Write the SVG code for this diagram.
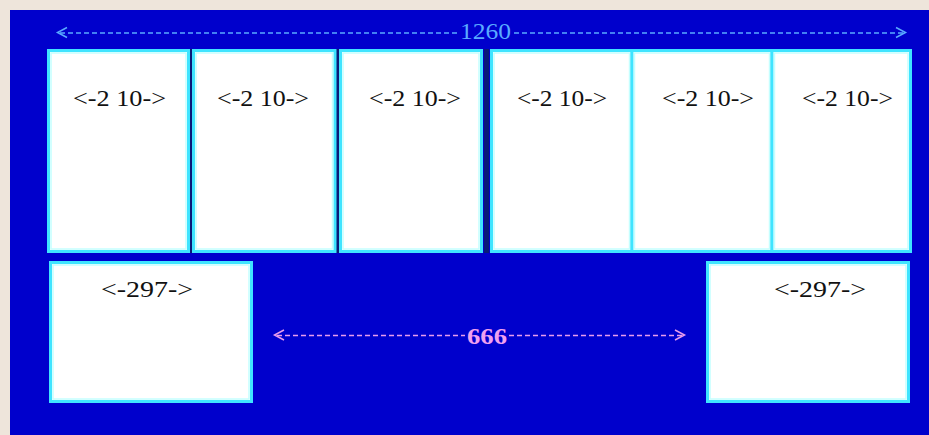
<svg xmlns="http://www.w3.org/2000/svg" width="929" height="435" viewBox="0 0 929 435">
  <style>
    .box { fill: #FFFFFF; stroke: #3FE4FF; stroke-width: 3; }
    .hi { fill: none; stroke: #C4FFFF; stroke-width: 1.5; }
    .lbl { font-family: "Liberation Serif", "Times New Roman", serif; font-size: 24px; fill: #111111; text-anchor: middle; }
    .dimA { stroke: #5AAAFF; stroke-width: 1.5; fill: none; }
    .dimB { stroke: #E89CEC; stroke-width: 1.5; fill: none; }
    .dash { stroke-dasharray: 5 3; }
    .gap { fill: #0A1A78; }
  </style>
  <rect x="0" y="0" width="929" height="435" fill="#EEE5DB"/>
  <rect x="10" y="10" width="919" height="425" fill="#0000CC"/>

  <rect class="gap" x="189.5" y="49" width="3" height="204"/>
  <rect class="gap" x="336" y="49" width="3" height="204"/>
  <rect class="gap" x="484" y="49" width="5" height="204"/>

  <g id="box1">
    <rect class="box" x="48.5" y="50.5" width="140" height="201"/>
    <rect class="hi" x="51" y="53" width="135" height="196"/>
    <text class="lbl" x="119.5" y="106" textLength="93" lengthAdjust="spacingAndGlyphs">&lt;-2 10-&gt;</text>
  </g>
  <g id="box2">
    <rect class="box" x="193.5" y="50.5" width="141.5" height="201"/>
    <rect class="hi" x="196" y="53" width="136.5" height="196"/>
    <text class="lbl" x="263" y="106" textLength="92" lengthAdjust="spacingAndGlyphs">&lt;-2 10-&gt;</text>
  </g>
  <g id="box3">
    <rect class="box" x="340.5" y="50.5" width="141" height="201"/>
    <rect class="hi" x="343" y="53" width="136" height="196"/>
    <text class="lbl" x="415" y="106" textLength="92" lengthAdjust="spacingAndGlyphs">&lt;-2 10-&gt;</text>
  </g>
  <g id="box4">
    <rect class="box" x="491.5" y="50.5" width="140.5" height="201"/>
    <rect class="hi" x="494" y="53" width="135.5" height="196"/>
    <text class="lbl" x="562" y="106" textLength="90" lengthAdjust="spacingAndGlyphs">&lt;-2 10-&gt;</text>
  </g>
  <g id="box5">
    <rect class="box" x="632" y="50.5" width="140" height="201"/>
    <rect class="hi" x="634.5" y="53" width="135" height="196"/>
    <text class="lbl" x="708" y="106" textLength="92" lengthAdjust="spacingAndGlyphs">&lt;-2 10-&gt;</text>
  </g>
  <g id="box6">
    <rect class="box" x="772" y="50.5" width="138.5" height="201"/>
    <rect class="hi" x="774.5" y="53" width="133.5" height="196"/>
    <text class="lbl" x="847.5" y="106" textLength="91" lengthAdjust="spacingAndGlyphs">&lt;-2 10-&gt;</text>
  </g>
  <g id="box7">
    <rect class="box" x="50.5" y="262.5" width="201" height="139"/>
    <rect class="hi" x="53" y="265" width="196" height="134"/>
    <text class="lbl" x="147" y="297" textLength="92" lengthAdjust="spacingAndGlyphs">&lt;-297-&gt;</text>
  </g>
  <g id="box8">
    <rect class="box" x="707.5" y="262.5" width="201" height="139"/>
    <rect class="hi" x="710" y="265" width="196" height="134"/>
    <text class="lbl" x="820" y="297" textLength="92" lengthAdjust="spacingAndGlyphs">&lt;-297-&gt;</text>
  </g>

  <g id="connectors">
    <g id="dim-1260">
      <polyline class="dimA" points="67,27.5 57.5,32.5 67,37.5"/>
      <line class="dimA dash" x1="60" y1="33" x2="457" y2="33"/>
      <line class="dimA dash" x1="514" y1="33" x2="903" y2="33"/>
      <polyline class="dimA" points="896,27.5 905.5,32.5 896,37.5"/>
      <text x="485.5" y="39" font-family="Liberation Serif, Times New Roman, serif" font-size="24" fill="#5AAAFF" text-anchor="middle" textLength="51" lengthAdjust="spacingAndGlyphs">1260</text>
    </g>
    <g id="dim-666">
      <polyline class="dimB" points="284,330 274.5,335 284,340"/>
      <line class="dimB dash" x1="277" y1="335.5" x2="465" y2="335.5"/>
      <line class="dimB dash" x1="509" y1="335.5" x2="682" y2="335.5"/>
      <polyline class="dimB" points="675,330 684.5,335 675,340"/>
      <text x="487" y="344" font-family="Liberation Serif, Times New Roman, serif" font-size="24" font-weight="bold" fill="#F0A0F0" text-anchor="middle" textLength="40" lengthAdjust="spacingAndGlyphs">666</text>
    </g>
  </g>
</svg>
